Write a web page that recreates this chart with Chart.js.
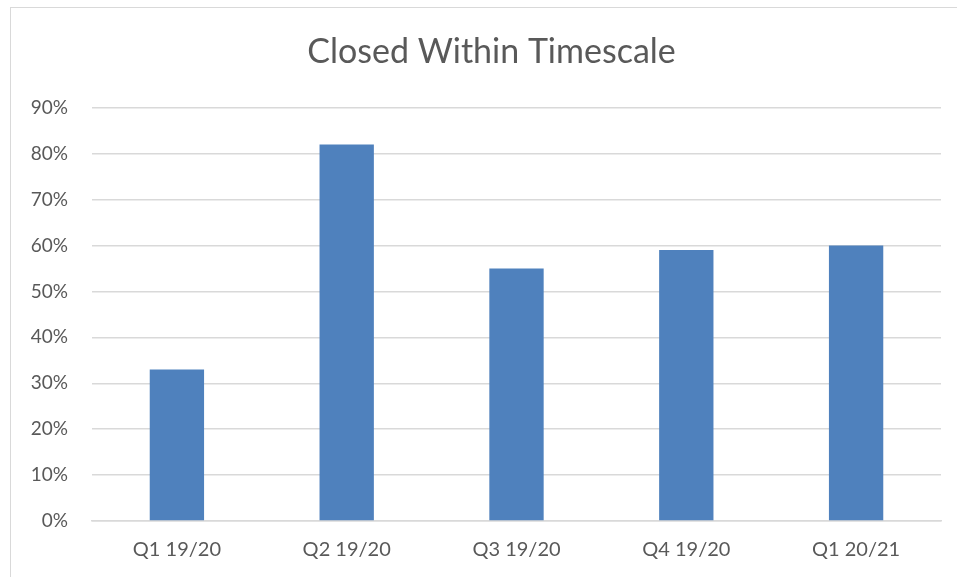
<!DOCTYPE html>
<html>
<head>
<meta charset="utf-8">
<script src="https://cdn.jsdelivr.net/npm/chart.js@4/dist/chart.umd.min.js"></script>
<style>
  html, body { margin: 0; padding: 0; background: #fff; }
  #wrap { position: relative; width: 957px; height: 577px; }
  #frame {
    position: absolute; left: 10px; top: 7px; right: -2px; bottom: -2px;
    border-left: 1.5px solid #d9d9d9; border-top: 1.5px solid #d9d9d9;
    pointer-events: none;
  }
  canvas { position: absolute; left: 0; top: 0; }
</style>
</head>
<body>
<div id="wrap">
  <canvas id="chart" width="957" height="577"></canvas>
  <div id="frame"></div>
</div>
<script>
// ── Data ──────────────────────────────────────────────────────────────
const quarters = ["Q1 19/20", "Q2 19/20", "Q3 19/20", "Q4 19/20", "Q1 20/21"];
const closedPct = [33, 82, 55, 59, 60];
const yTicks   = [0, 10, 20, 30, 40, 50, 60, 70, 80, 90];

const FONT = "'Lato', 'Open Sans', sans-serif";
const TXT  = "#595959";

// the original title is centred on the whole frame, not the plot; nudge it
const titleShift = {
  id: "titleShift",
  afterLayout(chart) {
    const t = chart.titleBlock;
    if (t) { t.left += 15; t.right += 15; }
  },
};

new Chart(document.getElementById("chart").getContext("2d"), {
  type: "bar",
  data: {
    labels: quarters,
    datasets: [{
      data: closedPct,
      backgroundColor: "#4f81bd",
      borderWidth: 0,
      barPercentage: 0.32,
      categoryPercentage: 1,
    }],
  },
  options: {
    responsive: false,
    animation: false,
    layout: { padding: { left: 12, right: 16, top: 32, bottom: 0 } },
    plugins: {
      legend: { display: false },
      tooltip: { enabled: false },
      title: {
        display: true,
        text: "Closed Within Timescale",
        color: TXT,
        font: { family: FONT, size: 34, weight: "normal" },
        padding: { top: 0, bottom: 35 },
      },
    },
    scales: {
      y: {
        min: 0, max: 90,
        afterBuildTicks: s => { s.ticks = yTicks.map(v => ({ value: v })); },
        grid: { color: "#d9d9d9", lineWidth: 1.5, drawTicks: false },
        border: { display: false },
        ticks: {
          color: TXT, padding: 24,
          font: { family: FONT, size: 19 },
          callback: v => `${v}%`,
        },
        afterFit: s => { s.width = 80; },
      },
      x: {
        grid: { display: false, drawTicks: false },
        border: { display: true, color: "#d9d9d9", width: 1.5 },
        ticks: { color: TXT, padding: 17, font: { family: FONT, size: 20 } },
        afterFit: s => { s.height = 56; },
      },
    },
  },
  plugins: [titleShift],
});
</script>
</body>
</html>
